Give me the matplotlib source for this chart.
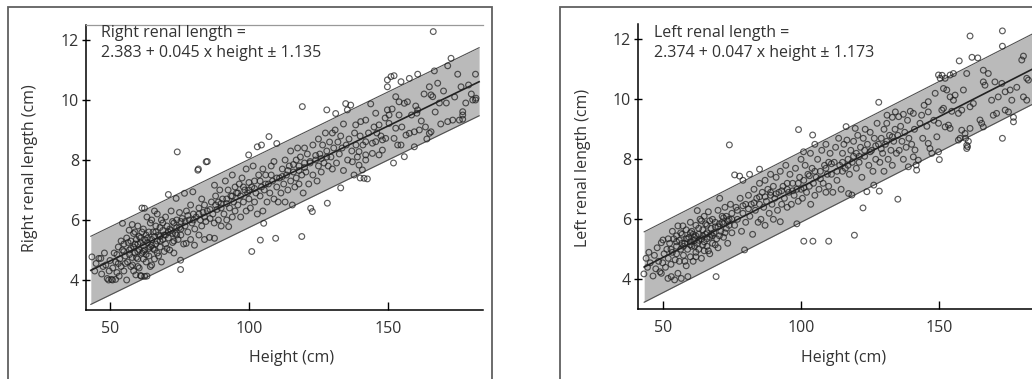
import numpy as np
import matplotlib
matplotlib.use("Agg")
import matplotlib.pyplot as plt
from matplotlib.patches import Rectangle

plt.rcParams['font.family'] = ['Open Sans', 'DejaVu Sans']

# right kidney: (height cm, length cm)
right_points = [
    (43.5, 4.77), (44.5, 4.3), (45, 4.55), (46, 4.72), (46.7, 4.72), (47, 4.2), (47.5, 4.45),
    (48, 4.9), (48.5, 4.5), (49, 4.05), (49.5, 4.0), (49.7, 4.3), (50, 4.65), (50.5, 4.02),
    (50.9, 4.0), (51, 4.4), (51.5, 4.9), (52, 4.02), (52.1, 4.6), (52.5, 4.25), (53, 5.1),
    (53.3, 4.13), (53.5, 4.7), (54, 4.45), (54.5, 5.89), (54.5, 5.0), (55, 4.3), (55, 5.2), (55.5, 4.8),
    (56, 4.0), (56.3, 4.6), (56.9, 5.66), (57, 5.0), (57.5, 4.45), (57.5, 5.3), (58, 4.75), (58.1, 4.5),
    (58.5, 5.1), (58.5, 5.55), (59, 4.9), (59.3, 4.17), (59.5, 5.35), (60, 4.7), (60, 5.2), (60, 5.8),
    (60.5, 5.0), (60.5, 4.4),
    (61, 4.15), (61, 5.4), (61.2, 4.13), (61.5, 6.4), (61.5, 4.9), (62, 5.15), (62, 5.7), (62.4, 6.39),
    (62.5, 4.12), (62.5, 5.0), (63, 5.5), (63, 4.6), (63.3, 6.1), (63.3, 4.13), (63.5, 5.25), (64, 4.8),
    (64, 5.6), (64.5, 5.1), (64.5, 5.9), (65, 4.5), (65, 5.35), (65, 6.0),
    (65.5, 5.05), (66, 5.45), (66, 4.7), (66.5, 5.8), (66.5, 5.2), (67, 6.2), (67, 4.9), (67.5, 5.5),
    (68, 5.1), (68, 5.75), (68.5, 4.6), (68.5, 6.0), (69, 5.35), (69, 5.65), (69.5, 4.95), (70, 5.5),
    (70, 6.1), (70, 5.2),
    (70.5, 5.8), (71, 6.85), (71, 5.4), (71.5, 5.0), (72, 5.65), (72, 6.3), (72.5, 5.25), (73, 5.9),
    (73, 4.9), (73.5, 5.55), (73.8, 6.72), (74, 6.0), (74.2, 8.27), (74.5, 5.35), (75, 5.75), (75, 6.25),
    (75.4, 4.35), (75.4, 4.66),
    (52.5, 4.85), (54, 5.3), (55.5, 4.55), (56.5, 5.25), (57, 4.85), (58, 5.85), (59, 5.6), (59.5, 4.75),
    (60.5, 5.45), (61.5, 5.6), (62.5, 5.35), (63, 4.85), (64, 5.05), (65.5, 5.6), (66, 5.0), (67, 5.3),
    (67.5, 4.8), (68, 5.45), (69, 5.9), (70.5, 5.05), (71.5, 5.7), (72.5, 5.95), (73, 5.3), (74, 5.5),
    (75.5, 5.95), (64.5, 4.45), (62, 4.7), (60, 4.45), (58.5, 4.3), (66, 6.3),
    (53, 4.55), (55, 4.95), (56, 5.4), (57.5, 5.05), (59, 5.2), (60, 4.95), (61, 5.25), (62, 4.95),
    (63.5, 5.4), (65, 5.15), (66.5, 5.6), (68, 5.3), (69.5, 5.5), (71, 5.6), (72.5, 5.55), (74, 5.75),
    (75.5, 5.7), (77, 5.95), (78, 6.15), (80, 6.0),
    (75.5, 5.5), (76, 6.05), (76.5, 5.2), (76.8, 6.89), (77, 5.8), (77.4, 5.22), (77.5, 6.3), (78, 5.6),
    (78.5, 6.0), (79, 5.35), (79, 6.5), (79.5, 5.9), (79.8, 6.94), (80, 6.2), (80.4, 5.16), (80.5, 5.7),
    (81, 6.1), (81.6, 7.66), (81.8, 7.7), (82, 5.5), (82, 6.4), (82.5, 6.0), (83, 6.7), (83, 5.8),
    (83.5, 6.25), (84, 5.35), (84, 6.5), (84.5, 5.95), (84.6, 7.94), (85, 7.95), (85, 6.3), (85.8, 5.42),
    (86, 6.05), (86.5, 6.6), (87, 6.2), (87.5, 5.9), (87.6, 7.16), (87.6, 5.39), (88, 6.8), (88.5, 6.35),
    (89, 6.0), (89, 6.6), (89.5, 7.0), (90, 6.4), (90, 5.8),
    (82, 6.2), (84, 6.1), (86, 6.35), (88, 6.5), (90, 6.55), (92, 6.7), (94, 6.8), (96, 6.9),
    (98, 7.1), (100, 7.0), (102, 7.05), (104, 7.3), (106, 7.2), (108, 7.5), (110, 7.4), (112, 7.45),
    (114, 7.65), (116, 7.85), (118, 7.65), (120, 7.75), (122, 7.95), (124, 8.15), (126, 8.05), (128, 8.1),
    (90.5, 6.7), (91, 6.2), (91.5, 7.3), (92, 6.55), (92, 6.0), (92.5, 7.0), (92.7, 5.78), (93, 6.4),
    (93.5, 6.8), (94, 6.1), (94, 7.5), (94.5, 6.6), (95, 7.1), (95, 6.3),
    (95.5, 6.9), (96, 6.5), (96.5, 7.2), (97, 6.1), (97, 6.8), (97.5, 7.4), (98, 6.6), (98.5, 7.0),
    (99, 6.3), (99, 7.7), (99.5, 6.9), (99.9, 8.17), (100, 6.7), (100, 7.25),
    (100.5, 6.4), (101, 4.95), (101, 7.1), (101.5, 7.8), (102, 6.6), (102, 7.3), (102.5, 6.9), (103, 8.44),
    (103, 6.2), (103.5, 7.5), (104, 6.8), (104.1, 5.33), (104.5, 8.5), (104.5, 7.1), (105, 6.3),
    (105.3, 5.89), (105, 7.7),
    (105.5, 7.0), (106, 7.5), (106.5, 6.6), (107, 7.2), (107.2, 8.78), (107.5, 6.9), (108, 7.8),
    (108.5, 7.3), (109, 6.7), (109, 7.95), (109.6, 5.39), (110, 7.1), (110, 8.55), (110.5, 6.6),
    (111, 7.4), (111.5, 6.9), (112, 7.7), (112.5, 7.2), (113, 6.6), (113, 8.0), (113.5, 7.5), (114, 7.0),
    (114.5, 7.8), (115, 7.3), (115, 8.3), (115.6, 6.5),
    (116, 7.6), (116.5, 7.1), (117, 8.0), (117, 7.4), (117.5, 8.4), (118, 7.2), (118, 7.8), (118.5, 8.1),
    (119, 7.5), (119, 5.45), (119.2, 9.78), (119.5, 6.9), (120, 7.9), (120, 8.4),
    (120.5, 7.6), (121, 8.2), (121.5, 7.2), (122, 7.9), (122.2, 6.39), (122.8, 6.28), (123, 8.5),
    (123, 7.5), (124, 8.0), (124.5, 7.3), (125, 8.7), (125, 7.8),
    (125.5, 8.2), (126, 7.6), (126.5, 8.5), (127, 7.9), (127.5, 8.9), (128, 8.3), (128, 9.67),
    (128.2, 6.56), (128.5, 7.8), (129, 8.6), (129.5, 8.1), (130, 7.7), (130, 8.9),
    (130.5, 8.4), (131, 9.0), (131.2, 9.55), (131.5, 7.9), (132, 8.6), (132.5, 8.2), (133, 7.07),
    (133, 8.8), (133.5, 8.4), (134, 7.65), (134, 9.2), (134.8, 9.88), (135, 8.5), (135.4, 9.67),
    (135.5, 8.0), (136, 8.7), (136.6, 9.83), (137, 8.3), (137.2, 7.94), (137.8, 7.5), (138, 8.9),
    (138.4, 9.17), (138.5, 8.5), (139, 8.1), (139.6, 8.28), (139.6, 7.83), (140, 8.8), (140, 7.4),
    (140.2, 9.28),
    (140.8, 7.67), (141, 8.5), (141.4, 7.39), (142, 8.61), (142, 8.17), (142, 8.0), (142, 9.33),
    (142.6, 7.37), (143, 8.9), (143.8, 9.87), (144.4, 8.56), (144.4, 8.22), (145, 9.1),
    (145.6, 9.56), (145.6, 8.61), (146, 8.9), (146.8, 9.17), (146.8, 8.17), (147.5, 8.8), (148, 8.67),
    (148, 8.33), (149, 9.4), (149.2, 8.72), (149.8, 9.67), (149.8, 10.67), (149.8, 10.44), (150.4, 9.5),
    (150.4, 9.22),
    (151.1, 10.78), (151.5, 9.7), (152, 7.9), (152.2, 10.81), (152.2, 8.72), (152.8, 10.11),
    (152.8, 9.06), (153.5, 8.5), (154, 9.94), (154, 9.5), (154.7, 10.61), (154.7, 8.5), (155, 9.1),
    (155.9, 9.89), (155.9, 8.11), (156.5, 8.83), (157, 9.94), (157.7, 10.72), (157.7, 8.89),
    (158.5, 9.5), (159.5, 8.94), (159.5, 8.44), (160, 9.8),
    (160.4, 9.56), (160.7, 10.86), (160.7, 9.67), (161.3, 9.0), (162, 9.3), (163, 10.2), (163.5, 9.1),
    (164, 8.7), (164.9, 10.44), (164.9, 8.89),
    (165.5, 10.17), (165.5, 8.94), (166.1, 10.11), (166.3, 12.28), (166.7, 10.97), (167, 9.6),
    (167.9, 10.56), (168.5, 9.9), (169, 9.2), (170, 10.3),
    (171, 9.9), (171.5, 11.14), (171.5, 9.28), (172.7, 11.39), (173.3, 9.33), (174, 10.1), (175.1, 10.86),
    (175.7, 9.33), (176.3, 10.44), (176.9, 9.61), (176.9, 9.5), (176.9, 9.36), (178, 9.9), (179, 10.5),
    (180, 10.2), (180.5, 10.0), (181.5, 10.86), (181.7, 10.06), (181.5, 10.0),
]

# left kidney
left_points = [
    (43.2, 4.18), (44, 4.7), (44.5, 4.4), (45, 4.9), (45.5, 4.55), (46.5, 4.11), (47, 4.8), (47.5, 4.35),
    (48, 5.05), (48.5, 4.6), (49, 4.25), (49.5, 4.2), (49.5, 5.22), (50, 4.55), (50.1, 5.31), (50.5, 4.85),
    (51, 4.4), (51.5, 5.0), (51.9, 4.03), (52, 4.7), (52.5, 5.2), (53, 4.5), (53.1, 4.09), (53.5, 4.9),
    (54, 5.35), (54.3, 3.98), (54.5, 4.65), (55, 5.1), (55, 4.85), (55.5, 4.2), (55.5, 5.78),
    (56, 5.3), (56, 4.6), (56.5, 5.0), (56.7, 4.03), (57, 5.5), (57.3, 5.78), (57.5, 4.8), (58, 5.2),
    (58.5, 5.65), (58.5, 4.45), (59, 5.0), (59.1, 4.09), (59.5, 5.4), (60, 4.75), (60, 5.25), (60, 5.9),
    (60.5, 5.1), (61, 5.5), (61, 4.6), (61.5, 5.3), (62, 5.8), (62, 4.9), (62.5, 6.29), (62.5, 5.2),
    (63, 5.5), (63, 5.0), (63.5, 6.0), (64, 5.35), (64, 4.7), (64.5, 5.65), (65, 5.25), (65, 6.1), (65, 4.95),
    (65.5, 5.5), (66, 5.8), (66, 5.1), (66.5, 6.25), (67, 5.4), (67, 4.85), (67.5, 5.7), (68, 6.0),
    (68, 5.2), (68.5, 5.55), (69, 5.9), (69.3, 4.09), (69.5, 5.35), (70, 5.75), (70, 6.3), (70, 5.05),
    (70.6, 6.7), (71, 5.6), (71.5, 6.1), (72, 5.4), (72, 5.85), (72.5, 6.4), (73, 5.7), (73.5, 5.2),
    (74, 6.0), (74.1, 8.48), (74.5, 6.5), (75, 5.55), (75, 6.2),
    (52, 5.35), (53.5, 5.6), (55, 5.45), (56.5, 5.55), (57.5, 5.1), (58, 4.6), (59, 5.35), (60.5, 5.6),
    (61.5, 5.1), (62, 5.45), (63, 5.3), (64, 5.95), (64.5, 5.15), (65.5, 5.85), (66, 5.35), (67, 5.95),
    (68, 5.45), (69, 5.15), (70.5, 5.45), (71.5, 5.9), (72.5, 5.55), (73, 6.1), (74, 5.8), (62, 4.75),
    (60, 5.55), (66.5, 4.95),
    (53, 5.0), (55, 5.25), (57, 5.2), (58.5, 5.35), (60, 5.15), (61.5, 5.4), (63, 5.7), (64.5, 5.45),
    (66, 5.55), (67.5, 5.5), (69, 5.75), (70.5, 5.85), (72, 6.05), (73.5, 5.95), (75, 6.0), (77, 6.3),
    (79, 6.45), (81, 6.35), (83, 6.55), (85, 6.75),
    (76, 7.48), (76, 5.8), (76.5, 6.4), (77, 6.0), (77.8, 7.44), (78, 6.7), (78.5, 5.6), (79, 7.3),
    (79, 6.2), (79.6, 4.98), (80, 6.5), (80, 5.9),
    (81, 6.8), (81.4, 7.5), (81.5, 6.1), (82, 6.5), (82.5, 5.5), (83, 7.0), (83.5, 6.3), (84, 6.7),
    (84.5, 5.9), (85, 7.67), (85, 6.5), (85, 7.2),
    (85.5, 6.0), (86, 6.9), (86.5, 6.4), (87, 7.3), (87, 5.8), (87.5, 6.6), (88, 7.0), (88.5, 6.2),
    (89, 6.8), (89, 7.5), (89.5, 6.5), (90, 6.0), (90, 7.1),
    (87, 6.75), (89, 6.9), (91, 6.85), (93, 6.95), (95, 7.0), (97, 6.95), (99, 7.2), (101, 7.05),
    (103, 7.45), (105, 7.6), (107, 7.35), (109, 7.7), (111, 7.85), (113, 7.6), (115, 7.9), (117, 7.8),
    (119, 8.1), (121, 8.1), (123, 8.3), (125, 8.25), (127, 8.45), (129, 8.35), (131, 8.6), (133, 8.75),
    (90.5, 6.7), (91, 7.4), (91.5, 6.3), (92, 6.9), (92.5, 5.92), (92.5, 7.6), (93, 6.5), (93.5, 7.1),
    (94, 6.7), (94.5, 7.8), (95, 6.4), (95, 7.2),
    (95.5, 6.9), (96, 7.5), (96.5, 6.5), (97, 7.2), (97.5, 6.8), (98, 7.7), (98.5, 5.85), (98.5, 7.0),
    (99, 6.6), (99.1, 8.99), (99.5, 7.4), (100, 7.0), (100, 8.0),
    (100.5, 6.7), (100.9, 8.25), (101, 5.27), (101, 7.3), (101.5, 7.8), (102, 6.9), (102.5, 7.5),
    (103, 7.1), (103.4, 8.2), (103.5, 6.5), (104, 7.7), (104.2, 8.81), (104.3, 5.27), (104.5, 7.2),
    (105, 6.8), (105, 8.5),
    (105.5, 7.4), (106, 8.0), (106.5, 7.0), (107, 7.6), (107.5, 8.3), (108, 7.2), (108.5, 7.8), (109, 6.9),
    (109, 8.5), (109.5, 7.5), (110, 5.27), (110, 7.9), (110, 7.1),
    (110.5, 8.2), (111, 7.5), (111.5, 6.9), (112, 7.9), (112.5, 8.4), (113, 7.3), (113.6, 8.7), (114, 7.8),
    (114.5, 7.0), (115, 8.2), (115, 7.6),
    (115.5, 8.5), (116, 7.7), (116.3, 9.09), (116.6, 8.64), (117, 8.0), (117.2, 6.86), (117.5, 7.5),
    (118, 8.3), (118.4, 6.81), (118.5, 7.9), (119, 8.6), (119.3, 5.47), (119.6, 9.03), (120, 7.7), (120, 8.2),
    (120.5, 8.8), (121, 7.9), (121.5, 8.4), (122, 7.4), (122.4, 6.38), (122.5, 8.7), (123, 8.1),
    (123.2, 9.0), (123.8, 6.92), (124, 8.5), (124.5, 7.8), (125, 8.9),
    (125.5, 8.3), (126, 7.6), (126.3, 7.14), (126.5, 8.7), (127, 8.0), (127.5, 9.2), (128, 8.5),
    (128.1, 9.9), (128.3, 6.94), (128.5, 7.9), (129, 8.7), (129.5, 8.2), (130, 9.0), (130, 7.6),
    (130.5, 8.5), (131, 9.2), (131.1, 9.47), (131.5, 8.0), (132, 8.8), (132.5, 8.3), (133, 9.4), (133, 7.8),
    (133.5, 8.6), (134, 9.0), (134.1, 9.58), (134.5, 8.2), (135, 6.67), (135, 8.8), (135.3, 9.42),
    (135.5, 8.3), (136, 9.1), (136.5, 8.6), (137, 9.5), (137, 8.0), (137.5, 8.9), (138, 8.4), (138.5, 9.3),
    (138.8, 7.75), (139, 8.7), (139.5, 9.6), (140, 8.5),
    (140.6, 9.53), (140.6, 8.08), (141, 9.0), (141.2, 8.31), (141.6, 7.81), (141.8, 7.64), (142.4, 7.97),
    (143, 9.2), (143.6, 9.47), (144, 8.7), (144.5, 9.8),
    (145.5, 9.1), (146, 9.92), (146, 9.58), (146, 8.53), (146.6, 8.36), (147.3, 8.2), (148, 9.3),
    (148.5, 10.2), (149.1, 8.75), (149.7, 10.81), (149.7, 9.2), (149.7, 8.25), (150, 7.99),
    (150.3, 10.7), (150.9, 9.64), (151, 10.8), (151.5, 10.36), (151.5, 9.7), (152.1, 10.7), (152.1, 9.08),
    (152.7, 10.31), (153.3, 9.14), (153.9, 10.81), (153.9, 10.08), (153.9, 9.03), (154.5, 9.6),
    (155.1, 10.86), (155.1, 9.97), (155.7, 10.14), (156.9, 9.53), (156.9, 8.64), (157.2, 11.28),
    (157.5, 8.7), (158.1, 9.64), (158.1, 8.97), (158.7, 10.31), (159.3, 8.86), (159.5, 8.7),
    (159.9, 10.86), (159.9, 8.47), (159.9, 8.36),
    (160.2, 8.42), (160.5, 8.6), (161.1, 12.11), (161.1, 9.75), (161.1, 9.03), (161.8, 11.4),
    (162.3, 9.86), (163.9, 11.38), (164.7, 9.31), (165.3, 9.2),
    (165.9, 10.97), (165.9, 10.58), (165.9, 9.08), (166.5, 10.47), (167.7, 10.86), (168.9, 9.97),
    (169.5, 9.47), (170.1, 10.58),
    (170.7, 9.53), (171.3, 10.08), (172.6, 10.53), (172.8, 12.28), (172.8, 11.77), (172.8, 8.7),
    (173.8, 10.25), (173.8, 9.64), (175, 9.58), (175.6, 10.31), (176.2, 9.97), (176.8, 9.4),
    (176.8, 9.25), (178, 10.4), (179.8, 11.31), (180.4, 11.44), (180.4, 10.08), (181.6, 10.7),
    (181.6, 9.97), (182.2, 10.64),
]

# regression: intercept, slope, half width of band
right_fit = (2.383, 0.045, 1.135)
left_fit = (2.374, 0.047, 1.173)
right_fit_range = (43.1, 182.8)
left_fit_range = (43.3, 184.0)

right_text = "Right renal length =\n2.383 + 0.045 x height \u00b1 1.135"
left_text = "Left renal length =\n2.374 + 0.047 x height \u00b1 1.173"

W, H = 1032, 379
fig = plt.figure(figsize=(W / 100, H / 100), dpi=100)

# outer frames round each panel
fig.patches.append(Rectangle((8 / W, -0.1), 484 / W, 1.1 - 7 / H, transform=fig.transFigure,
                             fill=False, edgecolor='#606060', linewidth=1.3))
fig.patches.append(Rectangle((560 / W, -0.1), 0.6, 1.1 - 7 / H, transform=fig.transFigure,
                             fill=False, edgecolor='#606060', linewidth=1.3))

FS = 11.5


def panel(rect, pts, fit, frange, xlim, ylim, ylabel, text, text_x, ylabel_x, top_line):
    ax = fig.add_axes(rect)
    pts = np.array(pts)
    a, b, half = fit
    xs = np.array(frange)
    ys = a + b * xs
    ax.fill_between(xs, ys - half, ys + half, color='#bababa', lw=0)
    ax.plot(xs, ys + half, color='#505050', lw=0.8)
    ax.plot(xs, ys - half, color='#505050', lw=0.8)
    ax.scatter(pts[:, 0], pts[:, 1], s=17, facecolors='none', edgecolors='#1e1e1e',
               linewidths=0.85, alpha=0.72, zorder=3)
    ax.plot(xs, ys, color='#222222', lw=1.2, zorder=4)
    ax.set_xlim(*xlim)
    ax.set_ylim(*ylim)
    ax.set_xticks([50, 100, 150])
    ax.set_yticks([4, 6, 8, 10, 12])
    ax.tick_params(axis='x', direction='in', length=6, width=1, labelsize=FS,
                   labelcolor='#333333', pad=8)
    ax.tick_params(axis='y', direction='inout', length=6, width=1, labelsize=FS,
                   labelcolor='#333333', pad=2)
    ax.spines['right'].set_visible(False)
    if top_line:
        ax.spines['top'].set_color('#999999')
        ax.spines['top'].set_linewidth(0.9)
    else:
        ax.spines['top'].set_visible(False)
    ax.spines['left'].set_linewidth(1.1)
    ax.spines['bottom'].set_linewidth(1.1)
    ax.set_facecolor('none')
    fig.text(text_x / W, 1 - 25 / H, text, ha='left', va='top', fontsize=FS,
             color='#333333', linespacing=1.35)
    fig.text(ylabel_x / W, 1 - 168 / H, ylabel, rotation=90, ha='center', va='center',
             fontsize=FS, color='#333333')
    return ax


ax1 = panel([86 / W, 1 - 310 / H, 397 / W, 285 / H], right_points, right_fit, right_fit_range,
            (41.37, 184.2), (3.0, 12.5), "Right renal length (cm)", right_text, 101, 30, True)
ax2 = panel([638 / W, 1 - 309 / H, 394 / W, 285 / H], left_points, left_fit, left_fit_range,
            (41.07, 183.5), (3.01, 12.51), "Left renal length (cm)", left_text, 654, 583, False)

fig.text(292 / W, 1 - 358 / H, "Height (cm)", ha='center', va='center', fontsize=FS, color='#333333')
fig.text(844 / W, 1 - 358 / H, "Height (cm)", ha='center', va='center', fontsize=FS, color='#333333')

plt.savefig("out.png", dpi=100)
